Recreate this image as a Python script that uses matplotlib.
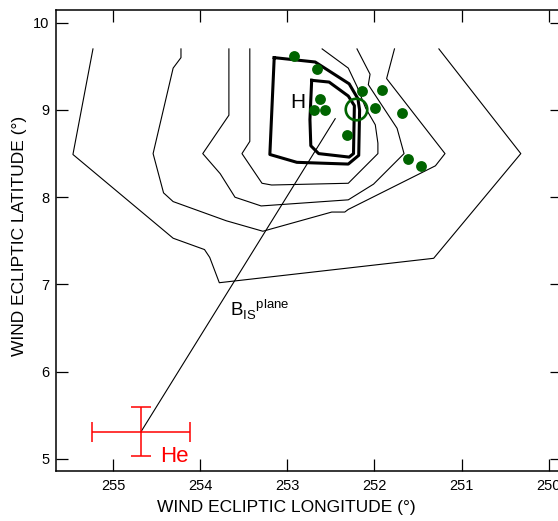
import numpy as np
import matplotlib
matplotlib.use("Agg")
import matplotlib.pyplot as plt

plt.rcParams['font.family'] = ['Liberation Sans', 'DejaVu Sans']
plt.rcParams['mathtext.fontset'] = 'custom'
plt.rcParams['mathtext.rm'] = 'Liberation Sans'

# ------------------ DATA ------------------
# open contours (longitude, latitude), outermost first
c1_lon = [255.23, 255.46, 254.31, 253.95, 253.89, 253.78, 251.32, 250.32, 251.26]
c1_lat = [9.70, 8.49, 7.53, 7.40, 7.31, 7.02, 7.30, 8.50, 9.70]

c2_lon = [254.22, 254.22, 254.31, 254.54, 254.42, 254.31, 253.70, 253.28, 252.49,
          252.34, 252.30, 251.82, 251.30, 251.19, 251.86, 251.77]
c2_lat = [9.70, 9.60, 9.48, 8.50, 8.05, 7.95, 7.73, 7.61, 7.83,
          7.83, 7.86, 8.10, 8.36, 8.50, 9.36, 9.70]

c3_lon = [253.67, 253.67, 253.97, 253.77, 253.60, 253.30, 252.30, 252.01, 251.66,
          251.74, 252.07, 252.05, 252.20]
c3_lat = [9.70, 8.94, 8.50, 8.27, 8.00, 7.90, 7.97, 8.15, 8.50,
          8.79, 9.29, 9.41, 9.70]

c4_lon = [253.43, 253.43, 253.52, 253.29, 253.18, 252.30, 251.96, 251.96, 251.99,
          252.10, 252.20, 252.30, 252.60]
c4_lat = [9.70, 8.64, 8.50, 8.16, 8.14, 8.16, 8.50, 8.62, 8.83,
          9.02, 9.27, 9.48, 9.70]

# closed (thick) contours
c5_lon = [253.15, 252.68, 252.29, 252.19, 252.17, 252.18, 252.30, 252.89, 253.20, 253.15]
c5_lat = [9.60, 9.55, 9.30, 9.13, 9.00, 8.48, 8.38, 8.40, 8.49, 9.60]

c6_lon = [252.72, 252.52, 252.30, 252.23, 252.24, 252.29, 252.64, 252.73, 252.74, 252.72]
c6_lat = [9.34, 9.32, 9.16, 9.05, 8.50, 8.46, 8.50, 8.59, 8.89, 9.34]

# H directions (green dots)
h_lon = [252.92, 252.66, 252.14, 251.91, 252.63, 252.69, 252.57, 251.99, 251.68,
         252.31, 251.61, 251.46]
h_lat = [9.62, 9.47, 9.22, 9.23, 9.13, 9.00, 9.00, 9.02, 8.97,
         8.71, 8.44, 8.36]

# best fit H (open circle)
hbest_lon = 252.215
hbest_lat = 9.01

# He direction with errors
he_lon = 254.68
he_lat = 5.31
he_lon_err = 0.56
he_lat_err = 0.28

# B_IS plane line
b_lon = [254.68, 252.45]
b_lat = [5.31, 8.90]

# ------------------ PLOT ------------------
fig = plt.figure(figsize=(5.58, 5.21), dpi=100)
ax = fig.add_axes([0.1004, 0.096, 0.9068, 0.8848])

for lon, lat in [(c1_lon, c1_lat), (c2_lon, c2_lat), (c3_lon, c3_lat), (c4_lon, c4_lat)]:
    ax.plot(lon, lat, color='black', lw=0.8)
for lon, lat in [(c5_lon, c5_lat), (c6_lon, c6_lat)]:
    ax.plot(lon, lat, color='black', lw=2.2, solid_joinstyle='round')

ax.plot(b_lon, b_lat, color='black', lw=0.8)

ax.plot(h_lon, h_lat, 'o', color='#006400', ms=7.8, mec='none')
ax.plot(hbest_lon, hbest_lat, 'o', mfc='none', mec='#006400', ms=15.5, mew=1.9)

ax.errorbar(he_lon, he_lat, xerr=he_lon_err, yerr=he_lat_err, color='red',
            lw=1.1, capsize=7.5, capthick=1.1)

ax.text(he_lon - 0.22, 4.96, 'He', color='red', fontsize=16, va='baseline')
ax.text(252.97, 9.02, 'H', fontsize=15, va='baseline')
ax.text(253.66, 6.63, r'$\mathrm{B}_{\mathrm{IS}}{}^{\mathrm{plane}}$', fontsize=13.5,
        va='baseline')

ax.set_xlim(255.654, 249.847)
ax.set_ylim(4.862, 10.146)
ax.set_xticks([255, 254, 253, 252, 251, 250])
ax.set_yticks([5, 6, 7, 8, 9, 10])
ax.tick_params(direction='in', length=8.5, width=0.9, top=True, right=True,
               labelsize=10.5)
ax.tick_params(axis='x', pad=6)
ax.tick_params(axis='y', pad=5)
for s in ax.spines.values():
    s.set_linewidth(1.1)

ax.set_xlabel('WIND ECLIPTIC LONGITUDE (°)', fontsize=12.5)
ax.set_ylabel('WIND ECLIPTIC LATITUDE (°)', fontsize=12.5)
ax.xaxis.set_label_coords(0.4555, -0.063)
ax.yaxis.set_label_coords(-0.057, 0.51)

fig.savefig('out.png', dpi=100)
